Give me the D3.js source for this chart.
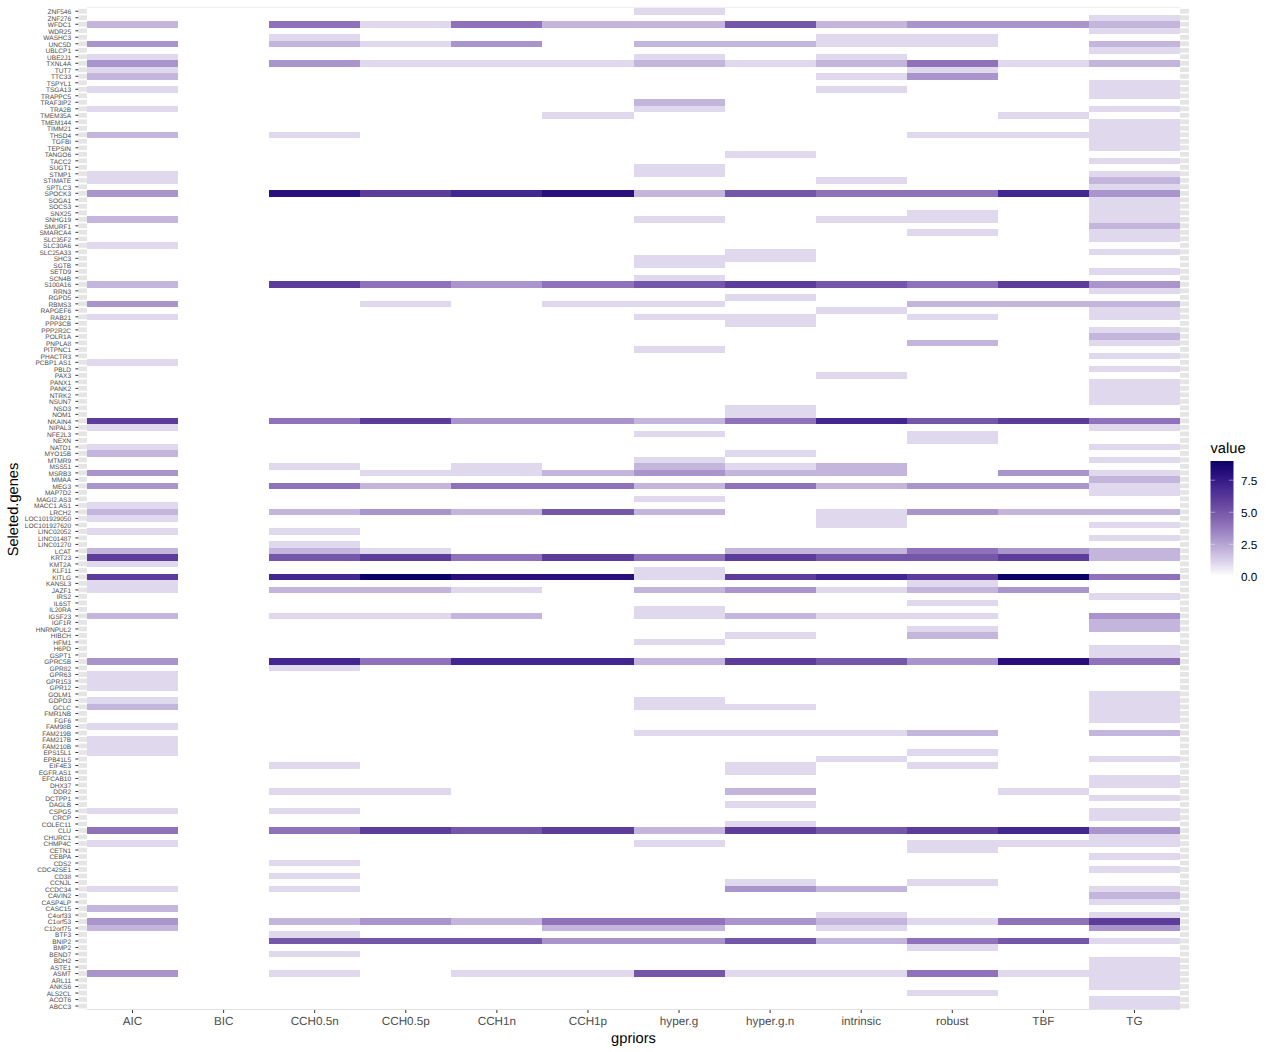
<!DOCTYPE html>
<html>
<head>
<meta charset="utf-8">
<script src="https://cdn.jsdelivr.net/npm/d3@7"></script>
<style>
html,body{margin:0;padding:0;background:#fff;}
svg{display:block;font-family:"Liberation Sans",Arial,sans-serif;text-rendering:geometricPrecision;}
</style>
</head>
<body>
<svg id="chart" width="1272" height="1052"></svg>
<script>
const methods = ["AIC","BIC","CCH0.5n","CCH0.5p","CCH1n","CCH1p","hyper.g","hyper.g.n","intrinsic","robust","TBF","TG"];

const genes = [
"ZNF546","ZNF276","WFDC1","WDR25","WASHC3","UNC5D","UBLCP1","UBE2J1","TXNL4A","TUT7",
"TTC33","TSPYL1","TSGA13","TRAPPC5","TRAF3IP2","TRA2B","TMEM35A","TMEM144","TIMM21","THSD4",
"TGFBI","TEPSIN","TANGO6","TACC2","SUGT1","STMP1","STIMATE","SPTLC3","SPOCK3","SOGA1",
"SOCS3","SNX25","SNHG19","SMURF1","SMARCA4","SLC35F2","SLC30A6","SLC25A33","SHC3","SGTB",
"SETD9","SCN4B","S100A16","RRN3","RGPD5","RBMS3","RAPGEF6","RAB21","PPP3CB","PPP2R2C",
"POLR1A","PNPLA8","PITPNC1","PHACTR3","PCBP1.AS1","PBLD","PAX3","PANX1","PANK2","NTRK2",
"NSUN7","NSD3","NOM1","NKAIN4","NIPAL3","NFE2L3","NEXN","NATD1","MYO15B","MTMR9",
"MSS51","MSRB3","MMAA","MEG3","MAP7D2","MAGI2.AS3","MACC1.AS1","LRCH2","LOC101929050","LOC101927620",
"LINC02052","LINC01487","LINC01270","LCAT","KRT23","KMT2A","KLF11","KITLG","KANSL3","JAZF1",
"IRS2","IL6ST","IL20RA","IGSF23","IGF1R","HNRNPUL2","HIBCH","HFM1","H6PD","GSPT1",
"GPRC5B","GPR82","GPR63","GPR153","GPR12","GOLM1","GDPD3","GCLC","FMR1NB","FGF6",
"FAM98B","FAM219B","FAM217B","FAM210B","EPS15L1","EPB41L5","EIF4E3","EGFR.AS1","EFCAB10","DHX37",
"DDR2","DCTPP1","DAGLB","CSPG5","CRCP","COLEC11","CLU","CHURC1","CHMP4C","CETN1",
"CEBPA","CDS2","CDC42SE1","CD38","CCNJL","CCDC34","CAVIN2","CASP4LP","CASC15","C4orf33",
"C1orf53","C12orf75","BTF3","BNIP2","BMP2","BEND7","BDH2","ASTE1","ASMT","ARL11",
"ANKS6","ALS2CL","ACOT6","ABCC3"];

// one string per gene, one digit per method, same order as genes / methods
const valueRows = [
"000000100000","000000000001","204142252332","000000000001","001000001100","302130221102","000000000001","100000101000","303111212412","100000000100",
"200000001300","000000000001","100000001001","000000000001","000000200000","100000100001","000001000010","000000000001","000000000001","201000000111",
"000000000001","000000000001","000000010000","000000000001","000000100000","100000100001","100000001002","000000000001","308678254473","000000000001",
"000000000001","000000000101","200000101101","000000000002","000000000101","000000000001","100000000000","000000010001","000000110000","000000100000",
"000000000001","000000100000","206434565463","000000000001","000000010000","300101100222","000000001001","100000110101","000000010000","000000000001",
"000000000002","000000000201","000000100000","000000000001","100000000000","000000000001","000000001000","000000000001","000000000001","000000000001",
"000000000001","000000010000","000000010000","604633247564","100000000001","000000100100","000000000100","100000000001","200000010000","000000100001",
"001010212000","300112322031","000000000002","304244242331","000000000001","000000100000","100000000000","202325201322","100000001000","000000001001",
"101000000000","000000000001","001000000000","202100022432","605646465562","100000000000","000000100000","607988167694","100000000100","102210231230",
"000000000001","000000000100","000000100000","201120121103","000000000002","000000000102","000000010200","000000100000","000000000001","000000000001",
"307477265384","001000000000","100000000000","100000000000","100000000000","000000000001","100000100001","200000110001","000000000001","000000000001",
"100000000000","000000111202","100000000000","100000000000","100000000100","000000001001","001000010100","000000010000","000000000001","000000000001",
"001100020010","000000000001","000000010000","101000000001","000000000001","000000010000","404656265673","000000000001","100000100111","000000000100",
"000000000001","001000000000","000000000001","001000000000","000000010100","101000032001","000000000002","000000000001","200000000000","000000001001",
"302324432146","200002201003","001000000000","005553352451","000000000100","001000000000","000000000001","000000000001","301011511411","000000000001",
"000000000001","000000000100","000000000001","000000000001"];

const legendTicks = [0, 2.5, 5, 7.5];
const colorStops = ["#ffffff","#e0d9ed","#c4b5dc","#a994cb","#8f72b9","#7557a9","#5d3c9a","#43268f","#2a0f7c","#0a0066"];
const colorDomain = [0,1,2,3,4,5,6,7,8,9];

const color = d3.scaleLinear().domain(colorDomain).range(colorStops).interpolate(d3.interpolateRgb);

const cells = [];
genes.forEach((g, i) => {
  methods.forEach((m, j) => cells.push({gene: g, method: m, value: +valueRows[i][j]}));
});

const svg = d3.select("#chart");
const tileLeft = 87, tileRight = 1180, tileTop = 8, tileBottom = 1009.3;
const panelLeft = 78.2, panelRight = 1189;

const x = d3.scaleBand().domain(methods).range([tileLeft, tileRight]);
const y = d3.scaleBand().domain(genes).range([tileTop, tileBottom]);

// panel grid lines, visible only in the panel margins beside the tiles
svg.append("g").selectAll("rect").data(genes).join("rect")
  .attr("x", panelLeft).attr("width", panelRight - panelLeft)
  .attr("y", d => y(d) + y.bandwidth() * 0.13)
  .attr("height", y.bandwidth() * 0.74)
  .attr("fill", "#e5e5e5");

// thin edges at the panel's top and bottom
svg.append("line").attr("x1", tileLeft).attr("x2", tileRight).attr("y1", 7.5).attr("y2", 7.5)
  .attr("stroke", "#eeeeee").attr("stroke-width", 1);
svg.append("line").attr("x1", tileLeft).attr("x2", tileRight).attr("y1", 1009.5).attr("y2", 1009.5)
  .attr("stroke", "#e3e3e3").attr("stroke-width", 1);

// tiles
svg.append("g").attr("shape-rendering", "crispEdges")
  .selectAll("rect").data(cells).join("rect")
  .attr("x", d => x(d.method)).attr("width", x.bandwidth())
  .attr("y", d => y(d.gene)).attr("height", y.bandwidth())
  .attr("fill", d => color(d.value));

// axes
const yAxis = svg.append("g").attr("transform", `translate(${panelLeft},0)`)
  .call(d3.axisLeft(y).tickSize(2.8).tickPadding(4.3));
yAxis.select(".domain").remove();
yAxis.selectAll("line").attr("stroke", "#333333");
yAxis.selectAll("text").attr("fill", "#4d4d4d").attr("font-size", 6.55).attr("dy", "0.42em")
  .style("font-family", '"Liberation Sans",Arial,sans-serif');

const xAxis = svg.append("g").attr("transform", "translate(0,1010)")
  .call(d3.axisBottom(x).tickSize(3).tickPadding(3.8));
xAxis.select(".domain").remove();
xAxis.selectAll("line").attr("stroke", "#333333");
xAxis.selectAll("text").attr("fill", "#4d4d4d").attr("font-size", 11.7)
  .style("font-family", '"Liberation Sans",Arial,sans-serif');

// axis titles
svg.append("text").attr("x", 633.5).attr("y", 1042.5).attr("text-anchor", "middle")
  .attr("font-size", 14.67).attr("fill", "#000").text("gpriors");
svg.append("text").attr("transform", "translate(18.3,509.5) rotate(-90)").attr("text-anchor", "middle")
  .attr("font-size", 14.67).attr("fill", "#000").text("Seleted.genes");

// legend
const legendLeft = 1210.5, legendWidth = 23, legendTop = 461, legendBottom = 576.3;
const legendScale = d3.scaleLinear().domain([0, 9]).range([legendBottom, legendTop]);
svg.append("text").attr("x", legendLeft).attr("y", 453).attr("font-size", 14.67).attr("fill", "#000").text("value");

const grad = svg.append("defs").append("linearGradient").attr("id", "legendGrad")
  .attr("x1", 0).attr("x2", 0).attr("y1", 1).attr("y2", 0);
grad.selectAll("stop").data(colorDomain).join("stop")
  .attr("offset", d => d / 9).attr("stop-color", d => color(d));

svg.append("rect").attr("x", legendLeft).attr("y", legendTop)
  .attr("width", legendWidth).attr("height", legendBottom - legendTop)
  .attr("fill", "url(#legendGrad)");

const lt = svg.append("g").selectAll("g").data(legendTicks).join("g");
lt.append("line").attr("x1", legendLeft).attr("x2", legendLeft + 4.6)
  .attr("y1", d => legendScale(d)).attr("y2", d => legendScale(d))
  .attr("stroke", "#fff").attr("stroke-opacity", d => d === 0 ? 0 : 0.6).attr("stroke-width", 0.7);
lt.append("line").attr("x1", legendLeft + legendWidth - 4.6).attr("x2", legendLeft + legendWidth)
  .attr("y1", d => legendScale(d)).attr("y2", d => legendScale(d))
  .attr("stroke", "#fff").attr("stroke-opacity", d => d === 0 ? 0 : 0.6).attr("stroke-width", 0.7);
lt.append("text").attr("x", 1241).attr("y", d => legendScale(d) + 5)
  .attr("font-size", 11.7).attr("fill", "#000").text(d => d3.format(".1f")(d));
</script>
</body>
</html>
